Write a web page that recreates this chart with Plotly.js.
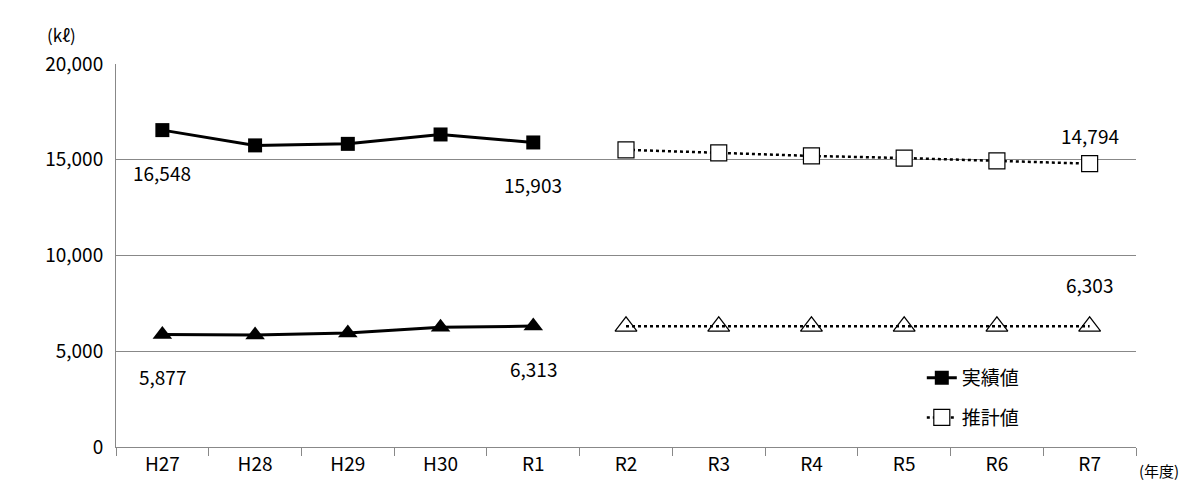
<!DOCTYPE html><html><head><meta charset="utf-8"><script src="https://cdn.plot.ly/plotly-3.0.1.min.js"></script></head><body style="margin:0"><div id="c" style="width:1186px;height:492px"></div><script>
const cats=["H27","H28","H29","H30","R1","R2","R3","R4","R5","R6","R7"];
const actA=[16548,15750,15830,16320,15903];
const estA=[15520,15360,15200,15090,14940,14794];
const actB=[5877,5850,5950,6250,6313];
const estB=[6303,6303,6303,6303,6303,6303];
const F="Noto Sans CJK JP";
const a=cats.slice(0,5), e=cats.slice(5);
const tr=[
{x:a,y:actA,name:"実績値",legendgroup:"a",mode:"lines+markers",line:{color:"#000",width:3},marker:{symbol:"square",size:14,color:"#000"}},
{x:e,y:estA,name:"推計値",legendgroup:"b",mode:"lines+markers",line:{color:"#000",width:2.5,dash:"dot"},marker:{symbol:"square",size:16,color:"#fff",line:{color:"#000",width:1.2}}},
{x:a,y:actB,showlegend:false,mode:"lines+markers",line:{color:"#000",width:3},marker:{symbol:"triangle-up",size:17,color:"#000"}},
{x:e,y:estB,showlegend:false,mode:"lines+markers",line:{color:"#000",width:2.5,dash:"dot"},marker:{symbol:"triangle-up-open",size:19,color:"#000",line:{width:1.2}}}
];
const ann=[["H27",16548,-42,16548],["R1",15903,-42,15903],["R7",14794,28,14794],["H27",5877,-42,5877],["R1",6313,-42,6313],["R7",6303,42,6303]].map(v=>({x:v[0],y:v[1],yshift:v[2],text:v[3].toLocaleString(),showarrow:false,font:{size:19,color:"#000",family:F}}));
ann.push({xref:"paper",yref:"paper",x:-0.07,y:1.115,text:"(kℓ)",showarrow:false,font:{size:17,color:"#000",family:F}});
ann.push({xref:"paper",yref:"paper",x:1.001,xanchor:"left",y:-0.03,yanchor:"top",text:"(年度)",showarrow:false,font:{size:15,color:"#000",family:F}});
Plotly.newPlot("c",tr,{width:1186,height:492,margin:{l:116,r:50,t:64,b:45},showlegend:true,
legend:{x:0.79,y:0.23,yanchor:"top",traceorder:"grouped",tracegroupgap:12,font:{size:19,family:F,color:"#000"},bgcolor:"rgba(0,0,0,0)"},
xaxis:{type:"category",categoryarray:cats,range:[-0.5,10.5],showline:true,linecolor:"#888",ticks:"outside",tickcolor:"#888",ticklen:8,showgrid:false,tickfont:{size:19,family:F,color:"#000"},tickson:"boundaries"},
yaxis:{range:[0,20000],dtick:5000,tickformat:",d",gridcolor:"#888",showline:true,linecolor:"#888",zeroline:false,ticklabelstandoff:8,tickfont:{size:19,family:F,color:"#000"}},
annotations:ann,plot_bgcolor:"#fff"},{displayModeBar:false});
</script></body></html>
